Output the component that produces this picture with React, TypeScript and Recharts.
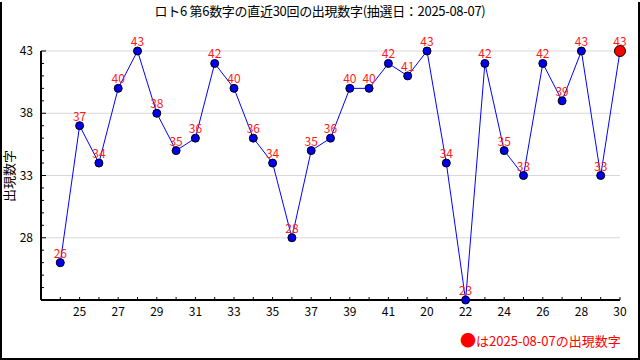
import React from 'react';
import {LineChart,Line,XAxis,YAxis,CartesianGrid,LabelList} from 'recharts';

// 回号(下2桁)と第6数字
const draws=['24','25','26','27','28','29','30','31','32','33','34','35','36','37','38','39','40','41','42','20','21','22','23','24','25','26','27','28','29','30'];
const nums=[26,37,34,40,43,38,35,36,42,40,36,34,28,35,36,40,40,42,41,43,34,23,42,35,33,42,39,43,33,43];
const yTicks=[23,24,25,26,27,28,29,30,31,32,33,34,35,36,37,38,39,40,41,42,43];
const yLabels=[28,33,38,43];

const data=nums.map((v,i)=>({i,draw:draws[i],v}));
const jp="'Noto Sans CJK JP','DejaVu Sans',sans-serif";

const YTick=(p:any)=>{
  const v=p.payload.value;const major=yLabels.includes(v);
  return(<g>
    <line x1={p.x} x2={p.x+(major?5:3)} y1={p.y} y2={p.y} stroke="#000"/>
    {major&&<text x={p.x-8} y={p.y+4} textAnchor="end" fontSize={12} fontFamily={jp} fill="#000">{v}</text>}
  </g>);
};
const XTick=(p:any)=>{
  const i=p.payload.value;
  return(<g>
    <line x1={p.x} x2={p.x} y1={p.y} y2={p.y-3} stroke="#000"/>
    {i%2===1&&<text x={p.x} y={p.y+16} textAnchor="middle" fontSize={12} fontFamily={jp} fill="#000">{draws[i]}</text>}
  </g>);
};
const Dot=(p:any)=>{
  const last=p.index===nums.length-1;
  return <circle key={p.index} cx={p.cx} cy={p.cy} r={last?5.5:4} fill={last?'#ff0000':'#0000ee'} stroke="#000" strokeWidth={1}/>;
};

const App:React.FC=()=>(
  <div style={{position:'absolute',left:0,top:0,width:640,height:360,background:'#fff',fontFamily:jp}}>
    <div style={{position:'absolute',left:0,top:2,width:636,height:356,borderLeft:'2px solid #000',borderRight:'2px solid #000',borderBottom:'2px solid #000'}}/>
    <div style={{position:'absolute',left:0,top:3,width:640,textAlign:'center',fontSize:13,color:'#000',lineHeight:'16px',letterSpacing:'-0.3px'}}>ロト6 第6数字の直近30回の出現数字(抽選日：2025-08-07)</div>
    {/* 縦軸タイトル */}
    <div style={{position:'absolute',left:9,top:176,transform:'translate(-50%,-50%) rotate(-90deg)',fontSize:13,color:'#000',lineHeight:'14px',whiteSpace:'nowrap'}}>出現数字</div>
    <LineChart width={640} height={360} data={data} margin={{top:51,right:20,left:11,bottom:30}} style={{position:'absolute',left:0,top:0}}>
      <CartesianGrid horizontal vertical={false} stroke="#d8d8d8" horizontalValues={yLabels}/>
      <XAxis dataKey="i" type="number" domain={[-1,29]} ticks={nums.map((_,i)=>i)} interval={0} height={30} stroke="#000" strokeWidth={2} tickSize={0} tickMargin={0} tickLine={false} tick={<XTick/>}/>
      <YAxis type="number" domain={[23,43]} ticks={yTicks} interval={0} width={30} stroke="#000" strokeWidth={2} tickSize={0} tickMargin={0} tickLine={false} tick={<YTick/>}/>
      <Line dataKey="v" stroke="#0000ff" strokeWidth={1} dot={Dot} isAnimationActive={false}>
        <LabelList dataKey="v" position="top" offset={5} fill="#ff1a1a" fontSize={12} fontFamily={jp}/>
      </Line>
    </LineChart>
    <div style={{position:'absolute',left:460,top:330,fontSize:13,color:'#ff0000',lineHeight:'18px',whiteSpace:'nowrap'}}><span style={{fontSize:16}}>●</span>は2025-08-07の出現数字</div>
  </div>
);
export default App;
